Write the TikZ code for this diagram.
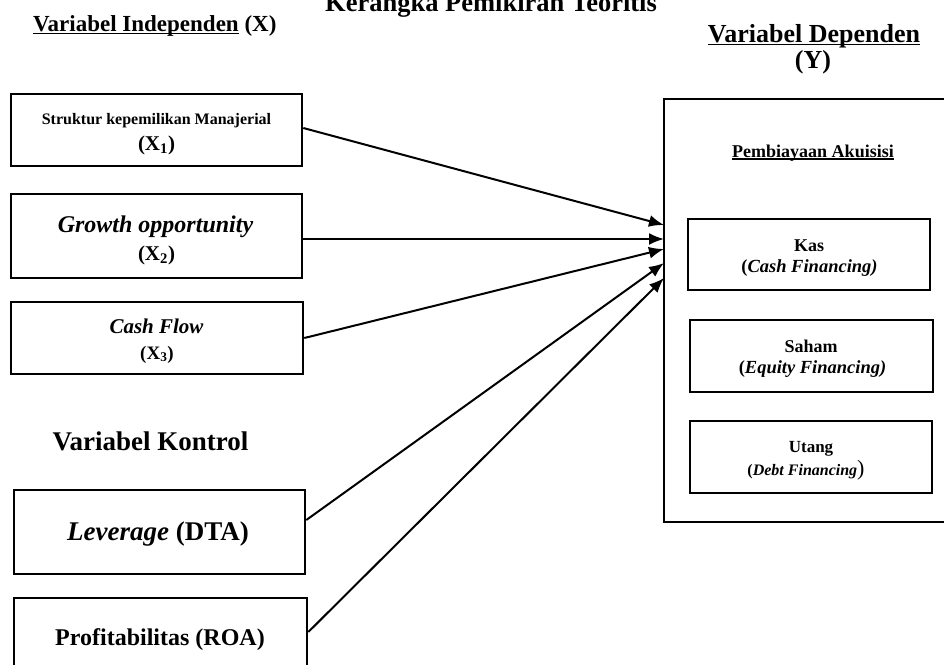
\documentclass[tikz,border=0pt]{standalone}
\usepackage{fontspec}
\setmainfont{Liberation Serif}
\usetikzlibrary{arrows.meta}
\newcommand\myul[3][1.6pt]{\setbox0=\hbox{#3}\rlap{\rule[-#2]{\wd0}{#1}}\box0\relax}
\tikzset{
  vbox/.style={draw, line width=2.6pt, inner sep=0pt, rectangle},
  conn/.style={line width=2pt, -{Latex[length=15pt,width=12pt]}},
  tx/.style={anchor=base, inner sep=0pt},
}
\newcommand\fs[1]{\fontsize{#1}{#1}\selectfont\bfseries}
\begin{document}
\begin{tikzpicture}[x=1pt,y=-1pt]
\path[use as bounding box, clip] (0,0) rectangle (944,664);
\fill[white] (0,0) rectangle (944,664);

% headings
\node[tx, font=\fs{26.5}] (title) at (491,11) {Kerangka Pemikiran Teoritis};
\node[tx, anchor=base west, font=\fs{23}] (indep) at (33,31) {\myul{3.2pt}{Variabel Independen} (X)};
\node[tx, font=\fs{26}] (dep) at (814,42) {\myul{3.4pt}{Variabel Dependen}};
\node[tx, font=\fs{26}] (depy) at (813,68) {(Y)};
\node[tx, font=\fs{27}] (kontrol) at (150.5,450) {Variabel Kontrol};

% independent boxes
\node[vbox, minimum width=291pt, minimum height=72pt] (x1) at (156.5,130) {};
\node[vbox, minimum width=291pt, minimum height=84pt] (x2) at (156.5,236) {};
\node[vbox, minimum width=292pt, minimum height=72pt] (x3) at (157,338) {};
\node[vbox, minimum width=291pt, minimum height=84pt] (lev) at (159.5,532) {};
\node[vbox, minimum width=293pt, minimum height=78pt] (prof) at (160.5,637) {};

\node[tx, font=\fs{16}] (x1a) at (156.5,124) {Struktur kepemilikan Manajerial};
\node[tx, font=\fs{21}] (x1b) at (156.5,150) {(X\textsubscript{1})};
\node[tx, font=\fs{24}] (x2a) at (155.5,232) {\itshape Growth opportunity};
\node[tx, font=\fs{21}] (x2b) at (156.5,260) {(X\textsubscript{2})};
\node[tx, font=\fs{21}] (x3a) at (156.5,333) {\itshape Cash Flow};
\node[tx, font=\fs{19}] (x3b) at (157,359) {(X\textsubscript{3})};
\node[tx, font=\fs{27}] (leva) at (158,540) {{\itshape Leverage} (DTA)};
\node[tx, font=\fs{24}] (profa) at (160,645) {Profitabilitas (ROA)};

% dependent side
\node[vbox, minimum width=300pt, minimum height=423pt] (big) at (814,310.5) {};
\node[tx, font=\fs{18}] (pemb) at (813,157) {\myul[1.2pt]{2.6pt}{Pembiayaan Akuisisi}};

\node[vbox, minimum width=242pt, minimum height=71pt] (kas) at (809,254.5) {};
\node[vbox, minimum width=243pt, minimum height=72pt] (saham) at (811.5,356) {};
\node[vbox, minimum width=242pt, minimum height=72pt] (utang) at (811,457) {};

\node[tx, font=\fs{18}] (kasa) at (809,251) {Kas};
\node[tx, font=\fs{18.5}] (kasb) at (809.5,272) {(\itshape Cash Financing)};
\node[tx, font=\fs{18}] (saha) at (811,352) {Saham};
\node[tx, font=\fs{18.5}] (sahb) at (812.5,373) {(\itshape Equity Financing)};
\node[tx, font=\fs{17}] (uta) at (811,452) {Utang};
\node[tx, font=\fs{16}] (utb) at (806,475) {({\itshape Debt Financing}{\fontsize{22}{22}\selectfont\mdseries )}};

% arrow targets on the dependent box
\coordinate (t1) at (664,225);
\coordinate (t2) at (664,239);
\coordinate (t3) at (664,249);
\coordinate (t4) at (664,263);
\coordinate (t5) at (664,278);

\draw[conn] ([yshift=2pt]x1.east) -- (t1);
\draw[conn] ([yshift=-3pt]x2.east) -- (t2);
\draw[conn] (x3.east) -- (t3);
\draw[conn] ([yshift=12pt]lev.east) -- (t4);
\draw[conn] ([yshift=5pt]prof.east) -- (t5);
\end{tikzpicture}
\end{document}
